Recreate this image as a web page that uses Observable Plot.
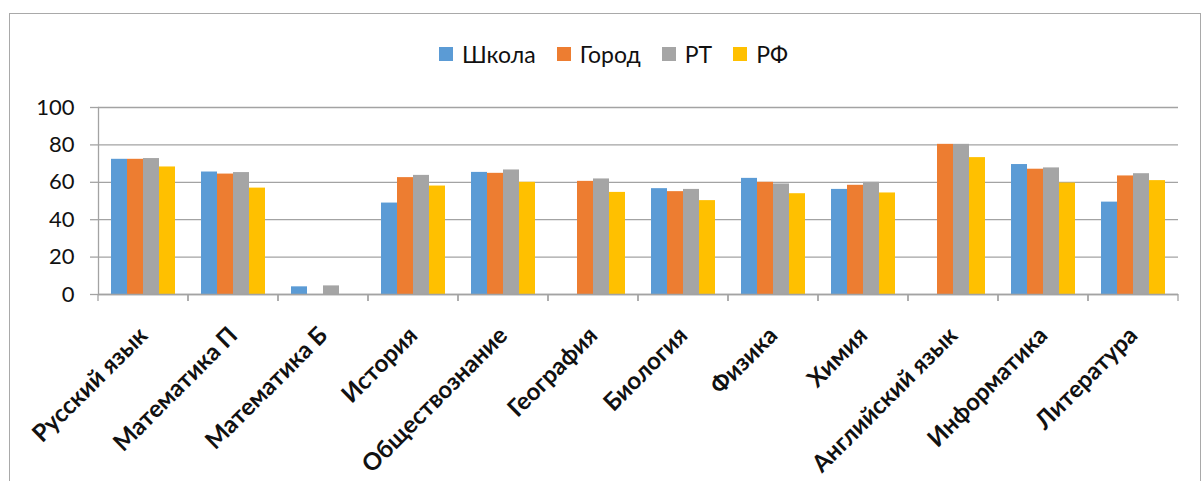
<!DOCTYPE html>
<html>
<head>
<meta charset="utf-8">
<script src="https://cdn.jsdelivr.net/npm/d3@7"></script>
<script src="https://cdn.jsdelivr.net/npm/@observablehq/plot@0.6"></script>
<style>
  html, body { margin: 0; padding: 0; background: #fff; }
  #wrap { position: relative; width: 1203px; height: 481px; overflow: hidden; font-family: Lato, "Open Sans", sans-serif; }
  #border { position: absolute; left: 9px; top: 13px; width: 1192px; height: 520px; border: 1.5px solid #a9a9a9; box-sizing: border-box; }
  #legend { position: absolute; top: 40px; left: 439px; display: flex; align-items: center; font-size: 23px; color: #111; white-space: nowrap; }
  #legend .item { display: flex; align-items: center; margin-right: 21px; }
  #legend .sw { width: 14px; height: 14px; margin-right: 9px; }
  #chart { position: absolute; left: 0; top: 0; }
</style>
</head>
<body>
<div id="wrap">
  <div id="border"></div>
  <div id="chart"></div>
  <div id="legend"></div>
</div>
<script>
const subjects = ["Русский язык", "Математика П", "Математика Б", "История", "Обществознание", "География", "Биология", "Физика", "Химия", "Английский язык", "Информатика", "Литература"];
const series = ["Школа", "Город", "РТ", "РФ"];
const school = [72.3, 65.5, 4.1, 48.9, 65.3, null, 56.6, 62.1, 56.2, null, 69.5, 49.4];
const city   = [72.3, 64.4, null, 62.5, 64.8, 60.5, 55.0, 60.0, 58.4, 80.3, 67.0, 63.4];
const rt     = [72.7, 65.2, 4.6, 63.7, 66.6, 61.8, 56.2, 59.1, 60.0, 80.3, 67.7, 64.6];
const rf     = [68.2, 56.9, null, 58.0, 60.0, 54.6, 50.2, 53.9, 54.3, 73.2, 59.6, 60.9];
const colors = ["#5B9BD5", "#ED7D31", "#A5A5A5", "#FFC000"];
const yTicks = [0, 20, 40, 60, 80, 100];

const data = [];
[school, city, rt, rf].forEach((vals, si) => vals.forEach((v, i) => {
  if (v != null) data.push({subject: subjects[i], series: series[si], value: v});
}));

const gridColor = "#a3a3a3";

const boundaryTicks = (index, scales, values, dims) => {
  const g = d3.create("svg:g").attr("stroke", gridColor).attr("stroke-width", 1.3);
  const yb = dims.height - dims.marginBottom;
  for (const x of [dims.marginLeft, dims.width - dims.marginRight]) {
    g.append("line").attr("x1", x).attr("x2", x).attr("y1", yb).attr("y2", yb + 7);
  }
  return g.node();
};

const chart = Plot.plot({
  width: 1203,
  height: 481,
  marginLeft: 96,
  marginRight: 23,
  marginTop: 107,
  marginBottom: 187,
  style: {fontFamily: "Lato, 'Open Sans', sans-serif", background: "transparent", overflow: "visible"},
  fx: {domain: subjects, padding: 0, label: null},
  x: {domain: series, paddingInner: 0, paddingOuter: 0.74, axis: null},
  y: {domain: [0, 100], label: null},
  color: {domain: series, range: colors},
  marks: [
    Plot.gridY(yTicks, {stroke: gridColor, strokeOpacity: 1, strokeWidth: 1.3}),
    Plot.barY(data, {fx: "subject", x: "series", y: "value", fill: "series"}),
    Plot.ruleY([0], {stroke: gridColor, strokeWidth: 1.3}),
    Plot.frame({anchor: "left", facetAnchor: "left", stroke: gridColor, strokeWidth: 1.3}),
    boundaryTicks,
    Plot.axisY(yTicks, {tickSize: 8, tickPadding: 16, fontSize: 22, stroke: gridColor, strokeWidth: 1.3, fill: "#111", label: null}),
    Plot.axisFx({anchor: "bottom", tickSize: 0, tickPadding: 37, tickRotate: -45, fontSize: 24, fontWeight: "bold", fill: "#111", label: null})
  ]
});
document.getElementById("chart").appendChild(chart);

const legend = d3.select("#legend");
series.forEach((s, i) => {
  const item = legend.append("div").attr("class", "item");
  item.append("div").attr("class", "sw").style("background", colors[i]);
  item.append("span").text(s);
});
</script>
</body>
</html>
